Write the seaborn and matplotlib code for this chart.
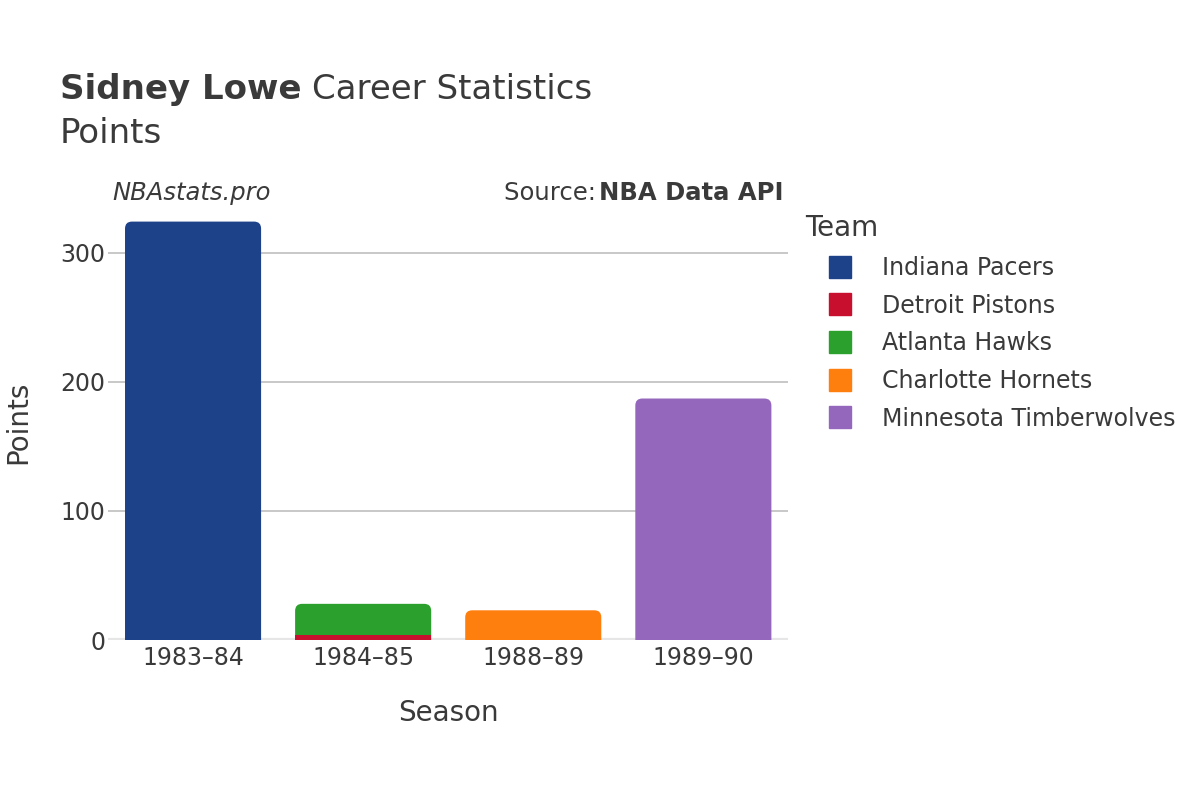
import pandas as pd
import matplotlib.pyplot as plt
import seaborn as sns
from matplotlib.patches import FancyBboxPatch
from matplotlib.lines import Line2D

seasons = ['1983–84', '1984–85', '1988–89', '1989–90']
teams = ['Indiana Pacers', 'Detroit Pistons', 'Atlanta Hawks',
         'Charlotte Hornets', 'Minnesota Timberwolves']
colors = ['#1d428a', '#c8102e', '#2ca02c', '#ff7f0e', '#9467bd']

# one row per season/team stint
row_season = ['1983–84', '1984–85', '1984–85', '1988–89', '1989–90']
row_team = ['Indiana Pacers', 'Detroit Pistons', 'Atlanta Hawks',
            'Charlotte Hornets', 'Minnesota Timberwolves']
row_points = [324, 4, 24, 23, 187]

df = pd.DataFrame({'season': row_season, 'team': row_team, 'points': row_points})
df['team'] = pd.Categorical(df['team'], categories=teams, ordered=True)
df = df.sort_values(['season', 'team'])
df['cum'] = df.groupby('season')['points'].cumsum()
top_team = df.groupby('season')['team'].last().to_dict()

text_col = '#3a3a3a'
sns.set_theme(style='white')
plt.rcParams['font.family'] = ['DejaVu Sans']

fig = plt.figure(figsize=(12, 8), dpi=100)
ax = fig.add_axes([0.09, 0.2, 0.567, 0.544])

ymax = 337

# draw stacked bars top-of-stack first so lower segments sit over them
drawn = []
for team, col in reversed(list(zip(teams, colors))):
    sub = df[df['team'] == team]
    if sub.empty:
        continue
    n0 = len(ax.patches)
    sns.barplot(data=sub, x='season', y='cum', order=seasons, color=col,
                width=0.8, ax=ax, errorbar=None, saturation=1)
    for p in ax.patches[n0:]:
        if p.get_height() > 0:
            drawn.append((p, team))

ax.set_xlim(-0.5, 3.5)
ax.set_ylim(0, ymax)

# rounded top corners like the original
px_x = 680 / 4.0
px_y = 435 / ymax
r_px = 7
for p, team in drawn:
    x, w, h = p.get_x(), p.get_width(), p.get_height()
    cx = x + w / 2
    season = seasons[int(round(cx))]
    is_top = top_team[season] == team
    fc = p.get_facecolor()
    p.remove()
    if is_top:
        ext = r_px / px_y
        fb = FancyBboxPatch((x, -ext), w, h + ext,
                            boxstyle='round,pad=0,rounding_size=%f' % (r_px / px_x),
                            mutation_aspect=px_x / px_y,
                            facecolor=fc, edgecolor='none', zorder=2)
    else:
        fb = FancyBboxPatch((x, 0), w, h, boxstyle='square,pad=0',
                            facecolor=fc, edgecolor='none', zorder=3)
    ax.add_patch(fb)

ax.set_yticks([0, 100, 200, 300])
for v in [100, 200, 300]:
    ax.axhline(v, color='#c4c4c4', lw=1.3, zorder=0)
ax.axhline(0, color='#e6e6e6', lw=3, zorder=1)
for s in ax.spines.values():
    s.set_visible(False)
ax.tick_params(axis='both', length=0, labelsize=17, colors=text_col)
ax.tick_params(axis='y', pad=2)
ax.tick_params(axis='x', pad=4)
ax.set_xlabel('Season', fontsize=20, color=text_col, labelpad=21)
ax.set_ylabel('Points', fontsize=20, color=text_col, labelpad=20)

fig.text(0.05, 0.876, 'Sidney Lowe', fontsize=24.5, fontweight='bold',
         color=text_col, va='baseline')
fig.text(0.26, 0.876, 'Career Statistics', fontsize=24.5, color=text_col,
         va='baseline')
fig.text(0.05, 0.8215, 'Points', fontsize=24.5, color=text_col, va='baseline')

fig.text(0.094, 0.75, 'NBAstats.pro', fontsize=17.5, style='italic',
         color=text_col, va='baseline')
fig.text(0.42, 0.75, 'Source: ', fontsize=17.5, color=text_col, va='baseline')
fig.text(0.6533, 0.75, 'NBA Data API', fontsize=17.5, fontweight='bold',
         color=text_col, ha='right', va='baseline')

handles = [Line2D([0], [0], marker='s', linestyle='none', markersize=16,
                  markerfacecolor=c, markeredgecolor=c) for c in colors]
leg = fig.legend(handles, teams, title='Team', loc='upper left',
                 bbox_to_anchor=(0.6713, 0.7323), frameon=False,
                 fontsize=17, title_fontsize=20, labelspacing=0.58,
                 handlelength=2.9, handletextpad=0.34, borderaxespad=0,
                 borderpad=0)
leg._legend_box.align = 'left'
for t in leg.get_texts():
    t.set_color(text_col)
leg.get_title().set_color(text_col)

plt.savefig('out.png', dpi=100)
